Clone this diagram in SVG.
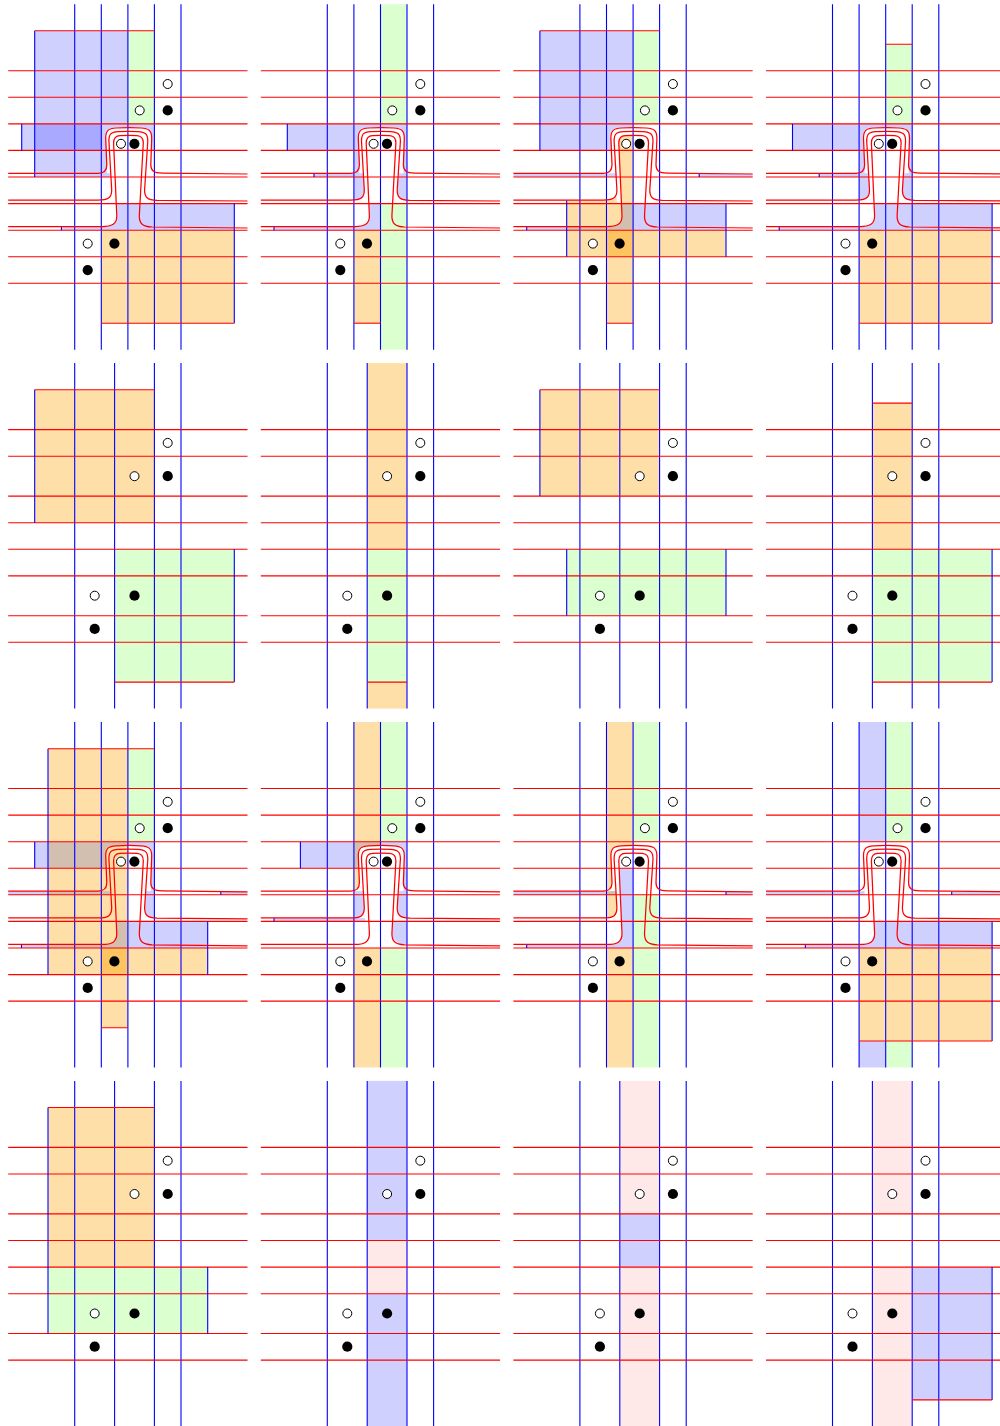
<svg xmlns="http://www.w3.org/2000/svg" xmlns:xlink="http://www.w3.org/1999/xlink" width="1000" height="1426" viewBox="0 0 1000 1426">
<style>
.b{fill:#d0d0ff}.d{fill:#a9a9ff}.g{fill:#dcffcf}.o{fill:#ffdfa8}.h{fill:#ffc462}.n{fill:#d2bfb0}.p{fill:#ffe8e8}
.rl{stroke:#f00;stroke-width:1.1;fill:none}
.wl{stroke:#f00;stroke-width:1.25;fill:none}
.bl{stroke:#00f;stroke-width:1.1;fill:none}
.w{fill:#fff;stroke:#000;stroke-width:1}
.k{fill:#000}
</style>
<defs>
<path id="ptop" class="b" d="M34.7 123.9H154.4V200.2C147 200 144.6 197 144.6 190L146 173.3H150.9L151.7 137C151.7 130.5 149.5 127.8 143 127.8H114C108 127.8 105.7 130.5 105.7 136L106.8 166V173.3H110.8L111.7 190C111.5 198 108 200 101.3 200.2V177H61.4V173.3H101.3V150.4H34.7Z"/>
<path id="rside" class="b" d="M154.4 150.4V200.2C147 200 144.6 197 144.6 190L146 173.3H150.9L151.3 150.4Z"/>
<path id="lcol" d="M101.3 177H111L111.7 190C111.5 198 108 200 101.3 200.2Z"/>
<path id="ovtop" class="o" d="M101.3 4.2H128V127.8H114C108 127.8 105.7 130.5 105.7 136L106.8 166C106.8 171 104 173.3 101.3 173.3Z"/>
<g id="gridA">
<path class="bl" d="M74.7 4.2V349.7M101.3 4.2V349.7M127.9 4.2V349.7M154.4 4.2V349.7M181 4.2V349.7"/>
<path class="rl" d="M8.2 70.7H247.5M8.2 97.3H247.5M8.2 123.9H247.5M8.2 150.4H247.5M8.2 177H247.5M8.2 203.6H247.5M8.2 230.2H247.5M8.2 256.8H247.5M8.2 283.3H247.5"/>
</g>
<g id="gridB">
<path class="bl" d="M74.7 4.2V349.7M114.6 4.2V349.7M154.4 4.2V349.7M181 4.2V349.7"/>
<path class="rl" d="M8.2 70.7H247.5M8.2 97.3H247.5M8.2 137.2H247.5M8.2 163.8H247.5M8.2 190.4H247.5M8.2 217H247.5M8.2 256.8H247.5M8.2 283.4H247.5"/>
</g>
<g id="wires" class="wl">
<path d="M8.2 173.3H98C104 173.3 106.8 171 106.8 165L105.7 138C105.7 130.5 108.5 128.4 116 128C124 127.5 134 127.5 141 128C148.5 128.4 151.7 130.5 151.7 138L150.8 165C150.8 171 154 172.9 162 173.1L247.5 174"/>
<path d="M8.2 200.2H98C108 200.2 111.7 198 111.7 190L108.9 141C108.9 134 111 132 118 131.6C125 131.2 132 131.2 138 131.6C145 132 147.8 134 147.8 141L144.6 190C144.6 197 147 200 157 200.3L247.5 201"/>
<path d="M8.2 226.7H102C112 226.7 116.8 224 116.8 216L113.6 143C113.6 138 115.5 135.8 120 135.6C125 135.3 132 135.3 137 135.6C141 135.8 143.3 138 143.3 143L139.3 216C139.3 223 142 226.5 152 227L247.5 228"/>
</g>
<g id="dotsA">
<circle class="w" cx="167.7" cy="84" r="4.5"/><circle class="w" cx="139.7" cy="110.4" r="4.5"/><circle class="k" cx="167.7" cy="110.4" r="5.1"/>
<circle class="w" cx="121" cy="143.8" r="4.5"/><circle class="k" cx="134.4" cy="143.8" r="5.1"/>
<circle class="w" cx="87.7" cy="243.6" r="4.5"/><circle class="k" cx="114.4" cy="243.6" r="5.1"/><circle class="k" cx="87.7" cy="270.1" r="5.1"/>
</g>
<g id="dotsB">
<circle class="w" cx="167.7" cy="84" r="4.5"/><circle class="w" cx="134.5" cy="117.3" r="4.5"/><circle class="k" cx="167.7" cy="117.3" r="5.1"/>
<circle class="w" cx="94.7" cy="236.8" r="4.5"/><circle class="k" cx="134.5" cy="236.8" r="5.1"/><circle class="k" cx="94.7" cy="270" r="5.1"/>
</g>
</defs>

<g id="panel-r0k0">
<path class="b" d="M34.7 30.8H128V123.9H154.4V150.4H151.3L151.7 137C151.7 130.5 149.5 127.8 143 127.8H114C108 127.8 105.7 130.5 105.7 136L106.2 150.4L106.8 166V173.3H110.8V177H34.7V150.4H21.7V123.9H34.7Z"/>
<rect class="d" x="34.7" y="123.9" width="66.6" height="26.5"/>
<rect class="g" x="128" y="30.8" width="26.4" height="93.1"/>
<path class="b" d="M234.3 203.6H116.3L116.8 216C116.8 224 112 226.7 104 226.7H61.4V230.2H234.3Z"/>
<rect class="o" x="101.3" y="230.2" width="133" height="93"/>
<use xlink:href="#gridA" href="#gridA"/>
<path class="bl" d="M34.7 30.8V177M21.7 123.9V150.4M234.3 203.6V323.2M61.4 226.7V230.2"/>
<path class="rl" d="M34.7 30.8H154.4M101.3 323.2H234.3"/>
<use xlink:href="#wires" href="#wires"/><use xlink:href="#dotsA" href="#dotsA"/>
</g>

<g id="panel-r0k1" transform="translate(252.6 0)">
<use xlink:href="#ptop" href="#ptop"/>
<rect class="g" x="128" y="4.2" width="26.4" height="119.7"/><rect class="g" x="128" y="203.6" width="26.4" height="146.1"/>
<path class="b" d="M128 203.6H116.3L116.8 216C116.8 224 112 226.7 104 226.7H21.4V230.2H128Z"/>
<rect class="o" x="101.3" y="230.2" width="26.7" height="93"/>
<use xlink:href="#gridA" href="#gridA"/>
<path class="bl" d="M34.7 123.9V150.4M61.4 173.3V177M21.4 226.7V230.2"/>
<path class="rl" d="M101.3 323.2H128"/>
<use xlink:href="#wires" href="#wires"/><use xlink:href="#dotsA" href="#dotsA"/>
</g>

<g id="panel-r0k2" transform="translate(505.2 0)">
<path class="b" d="M34.7 30.8H128V127.8H114C108 127.8 105.7 130.5 105.7 136L106.2 150.4H34.7Z"/>
<rect class="g" x="128" y="30.8" width="26.4" height="93.1"/>
<rect class="b" x="8.2" y="173.3" width="102.6" height="3.7"/><rect class="b" x="194" y="174" width="53.5" height="3"/>
<path class="o" d="M128 135.4H119C115.5 135.5 113.6 138 113.6 142L116.3 203.6H128Z"/>
<path class="o" d="M61.5 200.3H104C108 200.3 110.5 199 111.4 196L111.8 203.6H220.8V256.8H61.5Z"/>
<rect class="o" x="101.3" y="256.8" width="26.7" height="66.4"/>
<path class="b" d="M220.8 203.6H128V230.2H220.8ZM21.5 226.7H61.5V230.2H21.5Z"/>
<path class="n" d="M128 203.6H116.3L116.8 216C116.8 224 112 226.7 104 226.7H61.5V230.2H128Z"/>
<rect class="h" x="101.3" y="230.2" width="26.7" height="26.6"/>
<use xlink:href="#gridA" href="#gridA"/>
<path class="bl" d="M34.7 30.8V150.4M194 174V177M61.5 200.3V256.8M220.8 203.6V256.8M21.5 226.7V230.2"/>
<path class="rl" d="M34.7 30.8H154.4M101.3 323.2H128"/>
<use xlink:href="#wires" href="#wires"/><use xlink:href="#dotsA" href="#dotsA"/>
</g>

<g id="panel-r0k3" transform="translate(757.8 0)">
<use xlink:href="#ptop" href="#ptop"/>
<rect class="g" x="128" y="44.2" width="26.4" height="79.7"/>
<path class="b" d="M234.3 203.6H116.3L116.8 216C116.8 224 112 226.7 104 226.7H21.4V230.2H234.3Z"/>
<rect class="o" x="101.3" y="230.2" width="133" height="93"/>
<use xlink:href="#gridA" href="#gridA"/>
<path class="bl" d="M34.7 123.9V150.4M61.4 173.3V177M21.4 226.7V230.2M234.3 203.6V323.2"/>
<path class="rl" d="M128 44.2H154.4M101.3 323.2H234.3"/>
<use xlink:href="#wires" href="#wires"/><use xlink:href="#dotsA" href="#dotsA"/>
</g>

<g id="panel-r1k0" transform="translate(0 358.9)">
<rect class="o" x="34.7" y="30.8" width="119.7" height="133"/>
<rect class="g" x="114.6" y="190.4" width="119.7" height="132.8"/>
<use xlink:href="#gridB" href="#gridB"/>
<path class="bl" d="M34.7 30.8V163.8M234.3 190.4V323.2"/>
<path class="rl" d="M34.7 30.8H154.4M114.6 323.2H234.3"/>
<use xlink:href="#dotsB" href="#dotsB"/>
</g>

<g id="panel-r1k1" transform="translate(252.6 358.9)">
<rect class="o" x="114.6" y="4.2" width="39.8" height="186.2"/>
<rect class="g" x="114.6" y="190.4" width="39.8" height="132.8"/>
<rect class="o" x="114.6" y="323.2" width="39.8" height="26.5"/>
<use xlink:href="#gridB" href="#gridB"/>
<path class="rl" d="M114.6 323.2H154.4"/>
<use xlink:href="#dotsB" href="#dotsB"/>
</g>

<g id="panel-r1k2" transform="translate(505.2 358.9)">
<rect class="o" x="34.7" y="30.8" width="119.7" height="106.4"/>
<rect class="g" x="61.5" y="190.4" width="159.3" height="66.4"/>
<use xlink:href="#gridB" href="#gridB"/>
<path class="bl" d="M34.7 30.8V137.2M61.5 190.4V256.8M220.8 190.4V256.8"/>
<path class="rl" d="M34.7 30.8H154.4"/>
<use xlink:href="#dotsB" href="#dotsB"/>
</g>

<g id="panel-r1k3" transform="translate(757.8 358.9)">
<rect class="o" x="114.6" y="44.2" width="39.8" height="146.2"/>
<rect class="g" x="114.6" y="190.4" width="119.7" height="132.8"/>
<use xlink:href="#gridB" href="#gridB"/>
<path class="bl" d="M234.3 190.4V323.2"/>
<path class="rl" d="M114.6 44.2H154.4M114.6 323.2H234.3"/>
<use xlink:href="#dotsB" href="#dotsB"/>
</g>

<g id="panel-r2k0" transform="translate(0 717.8)">
<rect class="o" x="48" y="30.9" width="80" height="225.9"/>
<rect class="o" x="128" y="230.2" width="79.7" height="26.6"/>
<rect class="o" x="101.3" y="256.8" width="26.7" height="53.1"/>
<rect class="h" x="101.3" y="230.2" width="26.7" height="26.6"/>
<rect class="g" x="128" y="30.9" width="26.4" height="93"/>
<path class="b" d="M34.7 123.9H48V150.4H34.7ZM128 123.9H154.4V150.4H151.3L151.7 137C151.7 130.5 149.5 127.8 143 127.8H128Z"/>
<path class="n" d="M48 123.9H128V127.8H114C108 127.8 105.7 130.5 105.7 136L106.2 150.4H48Z"/>
<use xlink:href="#rside" href="#rside"/>
<rect class="b" x="8.2" y="173.3" width="39.8" height="3.7"/><rect class="n" x="48" y="173.3" width="62.8" height="3.7"/><rect class="b" x="220.8" y="174" width="26.7" height="3"/>
<rect class="b" x="128" y="203.6" width="79.7" height="26.6"/>
<rect class="b" x="21.5" y="226.7" width="26.5" height="3.5"/>
<path class="n" d="M128 203.6H116.3L116.8 216C116.8 224 112 226.7 104 226.7H48V230.2H128Z"/>
<use xlink:href="#gridA" href="#gridA"/>
<path class="bl" d="M48 30.9V256.8M34.7 123.9V150.4M220.8 174V177M207.7 203.6V256.8M21.5 226.7V230.2"/>
<path class="rl" d="M48 30.9H154.4M101.3 309.9H128"/>
<use xlink:href="#wires" href="#wires"/><use xlink:href="#dotsA" href="#dotsA"/>
</g>

<g id="panel-r2k1" transform="translate(252.6 717.8)">
<use xlink:href="#ovtop" href="#ovtop"/>
<rect class="o" x="101.3" y="230.2" width="26.7" height="119.5"/>
<rect class="g" x="128" y="4.2" width="26.4" height="119.7"/><rect class="g" x="128" y="230.2" width="26.4" height="119.5"/>
<path class="b" d="M47.8 123.9H101.3V150.4H47.8ZM128 123.9H154.4V150.4H151.3L151.7 137C151.7 130.5 149.5 127.8 143 127.8H128Z"/>
<path class="n" d="M101.3 123.9H128V127.8H114C108 127.8 105.7 130.5 105.7 136L106.2 150.4H101.3Z"/>
<use xlink:href="#rside" href="#rside"/>
<rect class="b" x="101.3" y="173.3" width="9.5" height="3.7"/>
<use xlink:href="#lcol" href="#lcol" class="b"/>
<rect class="b" x="21.4" y="200.3" width="91" height="3.3"/>
<path class="b" d="M154.4 203.6V227C147 226.8 139.3 223 139.3 216L139.9 203.6Z"/>
<use xlink:href="#gridA" href="#gridA"/>
<path class="bl" d="M47.8 123.9V150.4M21.4 200.3V203.6"/>
<use xlink:href="#wires" href="#wires"/><use xlink:href="#dotsA" href="#dotsA"/>
</g>

<g id="panel-r2k2" transform="translate(505.2 717.8)">
<use xlink:href="#ovtop" href="#ovtop"/>
<use xlink:href="#lcol" href="#lcol" class="o"/>
<rect class="o" x="101.3" y="230.2" width="26.7" height="119.5"/>
<rect class="g" x="128" y="4.2" width="26.4" height="119.7"/>
<rect class="g" x="128" y="177" width="26.4" height="172.7"/>
<rect class="b" x="8.2" y="173.3" width="93.1" height="3.7"/><rect class="n" x="101.3" y="173.3" width="9.5" height="3.7"/><rect class="b" x="220.8" y="174" width="26.7" height="3"/>
<path class="b" d="M128 150.4H114.4L116.8 216C116.8 224 112 226.7 104 226.7H21.5V230.2H128Z"/>
<use xlink:href="#gridA" href="#gridA"/>
<path class="bl" d="M220.8 174V177M21.5 226.7V230.2"/>
<use xlink:href="#wires" href="#wires"/><use xlink:href="#dotsA" href="#dotsA"/>
</g>

<g id="panel-r2k3" transform="translate(757.8 717.8)">
<rect class="b" x="101.3" y="4.2" width="26.7" height="119.7"/>
<rect class="g" x="128" y="4.2" width="26.4" height="119.7"/>
<rect class="b" x="8.2" y="173.3" width="98.6" height="3.7"/><rect class="b" x="193.9" y="174" width="53.6" height="3"/>
<path class="b" d="M234.3 203.6H116.3L116.8 216C116.8 224 112 226.7 104 226.7H47.5V230.2H234.3Z"/>
<rect class="o" x="101.3" y="230.2" width="133" height="93"/>
<rect class="b" x="101.3" y="323.2" width="26.7" height="26.5"/>
<rect class="g" x="128" y="323.2" width="26.4" height="26.5"/>
<use xlink:href="#gridA" href="#gridA"/>
<path class="bl" d="M193.9 174V177M47.5 226.7V230.2M234.3 203.6V323.2"/>
<path class="rl" d="M101.3 323.2H234.3"/>
<use xlink:href="#wires" href="#wires"/><use xlink:href="#dotsA" href="#dotsA"/>
</g>

<g id="panel-r3k0" transform="translate(0 1076.7)">
<rect class="o" x="48" y="30.8" width="106.4" height="159.6"/>
<rect class="g" x="48" y="190.4" width="159.7" height="66.4"/>
<use xlink:href="#gridB" href="#gridB"/>
<path class="bl" d="M48 30.8V256.8M207.7 190.4V256.8"/>
<path class="rl" d="M48 30.8H154.4"/>
<use xlink:href="#dotsB" href="#dotsB"/>
</g>

<g id="panel-r3k1" transform="translate(252.6 1076.7)">
<rect class="b" x="114.6" y="4.2" width="39.8" height="159.6"/>
<rect class="p" x="114.6" y="163.8" width="39.8" height="53.2"/>
<rect class="b" x="114.6" y="217" width="39.8" height="132.7"/>
<use xlink:href="#gridB" href="#gridB"/>
<use xlink:href="#dotsB" href="#dotsB"/>
</g>

<g id="panel-r3k2" transform="translate(505.2 1076.7)">
<rect class="p" x="114.6" y="4.2" width="39.8" height="133"/>
<rect class="b" x="114.6" y="137.2" width="39.8" height="53.2"/>
<rect class="p" x="114.6" y="190.4" width="39.8" height="159.3"/>
<use xlink:href="#gridB" href="#gridB"/>
<use xlink:href="#dotsB" href="#dotsB"/>
</g>

<g id="panel-r3k3" transform="translate(757.8 1076.7)">
<rect class="p" x="114.6" y="4.2" width="39.8" height="133"/>
<rect class="p" x="114.6" y="190.4" width="39.8" height="159.3"/>
<rect class="b" x="154.4" y="190.4" width="79.9" height="132.8"/>
<use xlink:href="#gridB" href="#gridB"/>
<path class="bl" d="M234.3 190.4V323.2"/>
<path class="rl" d="M154.4 323.2H234.3"/>
<use xlink:href="#dotsB" href="#dotsB"/>
</g>
</svg>
